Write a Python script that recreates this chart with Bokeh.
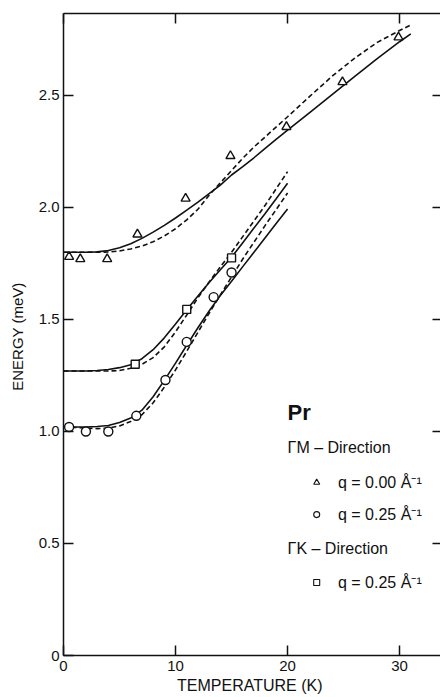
from bokeh.plotting import figure
from bokeh.models import Range1d, LinearAxis, FixedTicker, Label
from bokeh.embed import file_html
from bokeh.resources import INLINE

# ---- data ----
# measured points
tri_T = [0.5, 1.5, 3.9, 6.6, 10.9, 14.9, 19.9, 24.9, 29.9]          # ΓM, q = 0.00
tri_E = [1.78, 1.77, 1.77, 1.88, 2.04, 2.23, 2.36, 2.56, 2.76]
circ_T = [0.5, 2.0, 4.0, 6.5, 9.1, 11.0, 13.4, 15.0]                # ΓM, q = 0.25
circ_E = [1.02, 1.00, 1.00, 1.07, 1.23, 1.40, 1.60, 1.71]
sq_T = [6.4, 11.0, 15.0]                                            # ΓK, q = 0.25
sq_E = [1.30, 1.545, 1.775]

# theory curves (solid and dashed)
long_T = [0, 1, 2, 3, 4, 5, 6, 7, 8, 9, 10, 11, 12, 13, 14, 15, 16, 17, 18, 19, 20,
          22, 24, 26, 28, 30, 31]
m00_solid = [1.800, 1.800, 1.800, 1.802, 1.808, 1.820, 1.838, 1.862, 1.890, 1.920,
             1.953, 1.988, 2.024, 2.062, 2.100, 2.145, 2.182, 2.222, 2.264, 2.305,
             2.345, 2.425, 2.505, 2.585, 2.665, 2.740, 2.775]
m00_dashed = [1.800, 1.800, 1.800, 1.800, 1.801, 1.806, 1.815, 1.828, 1.847, 1.873,
              1.905, 1.945, 1.992, 2.055, 2.110, 2.165, 2.220, 2.270, 2.315, 2.360,
              2.405, 2.497, 2.587, 2.667, 2.737, 2.790, 2.815]

short_T = [0, 1, 2, 3, 4, 5, 6, 7, 8, 9, 10, 11, 12, 13, 14, 15, 16, 17, 18, 19, 20]
k25_solid = [1.270, 1.270, 1.270, 1.272, 1.277, 1.285, 1.298, 1.325, 1.365, 1.418,
             1.480, 1.543, 1.605, 1.665, 1.722, 1.778, 1.843, 1.908, 1.973, 2.040, 2.108]
k25_dashed = [1.270, 1.270, 1.270, 1.270, 1.270, 1.272, 1.282, 1.300, 1.330, 1.378,
              1.445, 1.520, 1.597, 1.668, 1.735, 1.800, 1.870, 1.940, 2.010, 2.085, 2.160]
m25_solid = [1.020, 1.020, 1.020, 1.022, 1.027, 1.040, 1.060, 1.095, 1.155, 1.228,
             1.305, 1.385, 1.463, 1.538, 1.607, 1.671, 1.736, 1.800, 1.865, 1.930, 1.993]
m25_dashed = [1.020, 1.018, 1.015, 1.013, 1.015, 1.025, 1.045, 1.075, 1.128, 1.198,
              1.275, 1.358, 1.443, 1.528, 1.610, 1.690, 1.770, 1.845, 1.920, 1.992, 2.065]

x_ticks = [0, 10, 20, 30]
y_ticks = [0, 0.5, 1.0, 1.5, 2.0, 2.5]
y_tick_labels = ["0", "0.5", "1.0", "1.5", "2.0", "2.5"]

FONT = "Liberation Sans"
INK = "#111111"

p = figure(width=440, height=697, output_backend="svg", toolbar_location=None,
           x_range=Range1d(0, 33.65), y_range=Range1d(0, 2.866),
           x_axis_location=None, y_axis_location=None,
           min_border_left=63, min_border_right=0, min_border_top=13, min_border_bottom=42)
p.outline_line_color = None
p.xgrid.visible = False
p.ygrid.visible = False
p.background_fill_color = "white"


def style_axis(ax, ticks, show_labels, line=True):
    ax.ticker = FixedTicker(ticks=ticks)
    ax.minor_tick_line_color = None
    ax.major_tick_in = 10
    ax.major_tick_out = 0
    ax.major_tick_line_color = INK
    ax.major_tick_line_width = 1.5
    ax.axis_line_color = INK if line else None
    ax.axis_line_width = 1.5
    if show_labels:
        ax.major_label_text_font = FONT
        ax.major_label_text_font_size = "15px"
        ax.major_label_text_color = INK
    else:
        ax.major_label_text_font_size = "1px"
        ax.major_label_text_color = None
        ax.major_label_standoff = 0


bx = LinearAxis()
style_axis(bx, x_ticks, True)
bx.major_label_standoff = 5
bx.axis_label = "TEMPERATURE  (K)"
bx.axis_label_text_font = FONT
bx.axis_label_text_font_size = "16px"
bx.axis_label_text_font_style = "normal"
bx.axis_label_text_color = INK
bx.axis_label_standoff = 3
p.add_layout(bx, "below")

tx = LinearAxis()
style_axis(tx, x_ticks, False)
p.add_layout(tx, "above")

ly = LinearAxis()
style_axis(ly, y_ticks, True)
ly.major_label_standoff = 4
ly.major_label_overrides = {t: s for t, s in zip(y_ticks, y_tick_labels)}
ly.axis_label = "ENERGY  (meV)"
ly.axis_label_text_font = FONT
ly.axis_label_text_font_size = "15px"
ly.axis_label_text_font_style = "normal"
ly.axis_label_text_color = INK
ly.axis_label_standoff = 10
p.add_layout(ly, "left")

ry = LinearAxis()
style_axis(ry, y_ticks[1:], False, line=False)
ry.major_tick_in = 8
p.add_layout(ry, "right")

# curves
LW = 1.6
DASH = "5 3"
p.line(long_T, m00_solid, line_color=INK, line_width=LW)
p.line(long_T, m00_dashed, line_color=INK, line_width=LW, line_dash=DASH)
p.line(short_T, k25_solid, line_color=INK, line_width=LW)
p.line(short_T, k25_dashed, line_color=INK, line_width=LW, line_dash=DASH)
p.line(short_T, m25_solid, line_color=INK, line_width=LW)
p.line(short_T, m25_dashed, line_color=INK, line_width=LW, line_dash=DASH)

# points
p.scatter(tri_T, tri_E, marker="triangle", size=9, fill_color="white", line_color=INK, line_width=1.4)
p.scatter(circ_T, circ_E, marker="circle", size=9, fill_color="white", line_color=INK, line_width=1.4)
p.scatter(sq_T, sq_E, marker="square", size=8, fill_color="white", line_color=INK, line_width=1.4)

# legend (hand made, as in the original)
LX_HEAD, LX_MARK, LX_TEXT = 20.0, 22.6, 24.5
p.add_layout(Label(x=LX_HEAD, y=1.085, text="Pr", text_font=FONT, text_font_size="22px",
                   text_font_style="bold", text_baseline="middle", text_color=INK))
p.add_layout(Label(x=LX_HEAD, y=0.929, text="ΓM – Direction", text_font=FONT,
                   text_font_size="16px", text_baseline="middle", text_color=INK))
p.add_layout(Label(x=LX_HEAD, y=0.478, text="ΓK – Direction", text_font=FONT,
                   text_font_size="16px", text_baseline="middle", text_color=INK))
leg_y = [0.772, 0.629, 0.326]
leg_marker = ["triangle", "circle", "square"]
leg_text = ["q = 0.00 Å⁻¹", "q = 0.25 Å⁻¹", "q = 0.25 Å⁻¹"]
for yy, mk, tx_ in zip(leg_y, leg_marker, leg_text):
    p.scatter([LX_MARK], [yy], marker=mk, size=6, fill_color="white", line_color=INK, line_width=1.1)
    p.add_layout(Label(x=LX_TEXT, y=yy, text=tx_, text_font=FONT, text_font_size="16px",
                       text_baseline="middle", text_color=INK))

open("out.html", "w").write(file_html(p, INLINE))
